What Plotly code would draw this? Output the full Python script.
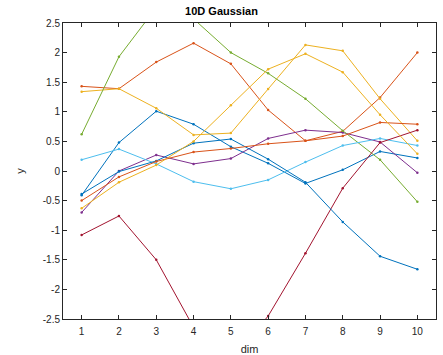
import plotly.graph_objects as go

dims = [1, 2, 3, 4, 5, 6, 7, 8, 9, 10]

s1 = [-0.41, 0.48, 1.01, 0.79, 0.41, 0.13, -0.21, 0.02, 0.33, 0.22]
s2 = [1.43, 1.39, 1.84, 2.16, 1.81, 1.03, 0.51, 0.67, 1.24, 2.00]
s3 = [1.34, 1.39, 1.06, 0.61, 0.64, 1.385, 2.13, 2.03, 1.22, 0.51]
s4 = [-0.70, 0.00, 0.27, 0.12, 0.21, 0.55, 0.69, 0.65, 0.49, -0.03]
s5 = [0.62, 1.93, 2.76, 2.57, 2.00, 1.65, 1.22, 0.68, 0.19, -0.52]
s6 = [0.19, 0.37, 0.12, -0.18, -0.30, -0.15, 0.15, 0.43, 0.55, 0.43]
s7 = [-1.08, -0.76, -1.50, -2.64, -3.20, -2.45, -1.39, -0.29, 0.48, 0.69]
s8 = [-0.39, -0.01, 0.17, 0.47, 0.54, 0.20, -0.19, -0.86, -1.44, -1.66]
s9 = [-0.50, -0.10, 0.16, 0.32, 0.38, 0.46, 0.51, 0.59, 0.82, 0.79]
s10 = [-0.63, -0.19, 0.10, 0.50, 1.11, 1.72, 1.98, 1.67, 0.95, 0.29]

series = [s1, s2, s3, s4, s5, s6, s7, s8, s9, s10]
colors = ["#0072BD", "#D95319", "#EDB120", "#7E2F8E", "#77AC30",
          "#4DBEEE", "#A2142F", "#0072BD", "#D95319", "#EDB120"]

ytickvals = [-2.5, -2, -1.5, -1, -0.5, 0, 0.5, 1, 1.5, 2, 2.5]
yticktext = ["-2.5", "-2", "-1.5", "-1", "-0.5", "0", "0.5", "1", "1.5", "2", "2.5"]

fig = go.Figure()
for vals, c in zip(series, colors):
    fig.add_trace(go.Scatter(
        x=dims, y=vals, mode="lines+markers",
        line=dict(color=c, width=1),
        marker=dict(color=c, size=2.5),
        showlegend=False, hoverinfo="skip",
    ))

axcol = "#262626"
font = "Liberation Sans, Arial, Helvetica, sans-serif"

fig.update_layout(
    width=443, height=355,
    margin=dict(l=63, r=7, t=23, b=36),
    paper_bgcolor="white", plot_bgcolor="white",
    font=dict(family=font, size=10, color=axcol),
    title=dict(text="<b>10D Gaussian</b>", x=0.5, xanchor="center",
               y=1 - 11.5 / 355, yanchor="middle",
               font=dict(size=11, color="black", family=font)),
)
fig.update_xaxes(
    range=[0.5, 10.5], tickvals=dims, ticktext=[str(d) for d in dims],
    showgrid=False, zeroline=False, showline=True, mirror="ticks",
    linecolor=axcol, linewidth=1, ticks="inside", ticklen=4,
    tickcolor=axcol, tickfont=dict(size=10, color=axcol),
    ticklabelstandoff=3, automargin=False,
    title=dict(text="dim", font=dict(size=11, color=axcol)),
)
fig.update_yaxes(
    range=[-2.5, 2.5], tickvals=ytickvals, ticktext=yticktext,
    showgrid=False, zeroline=False, showline=True, mirror="ticks",
    linecolor=axcol, linewidth=1, ticks="inside", ticklen=4,
    tickcolor=axcol, tickfont=dict(size=10, color=axcol),
    automargin=False,
    title=dict(text="y", font=dict(size=11, color=axcol)),
)

fig.write_html("out.html")
